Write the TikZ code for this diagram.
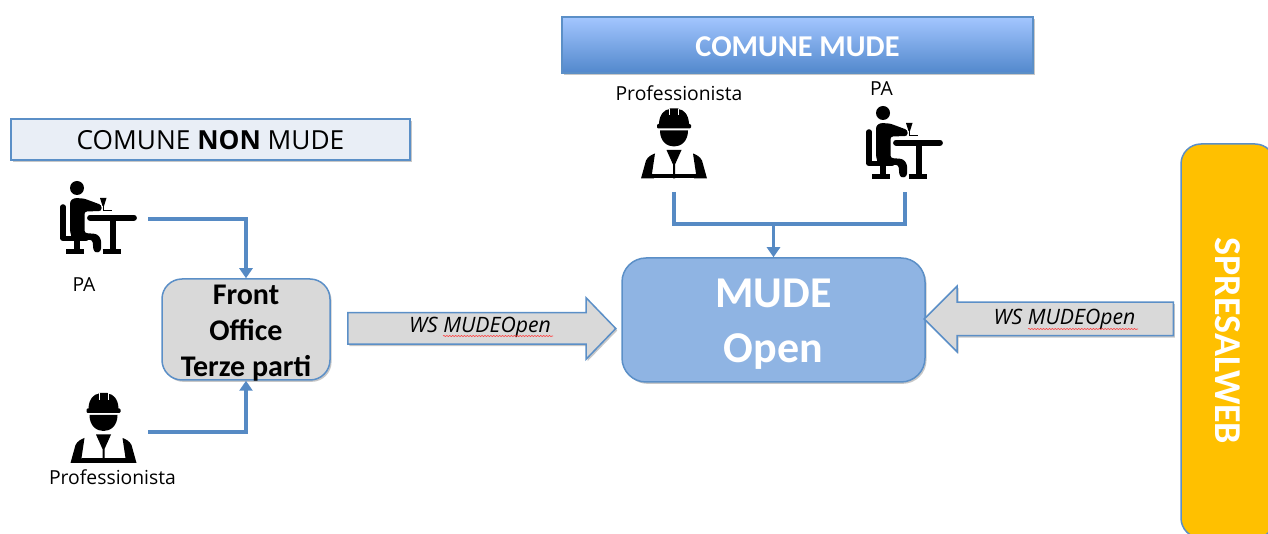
\documentclass[tikz,border=0pt]{standalone}
\usepackage{fontspec}
\setmainfont{Carlito}
\newfontfamily\labelfont{Open Sans}
\usetikzlibrary{shapes.arrows,shadows,arrows.meta,decorations.pathmorphing}
\def\px{0.75pt}
\definecolor{edgeblue}{HTML}{5B8FC7}
\definecolor{linkblue}{HTML}{568AC4}
\definecolor{greyfill}{HTML}{D9D9D9}
\definecolor{mudefill}{HTML}{8FB4E3}
\definecolor{paleblue}{HTML}{E9EEF6}
\definecolor{amber}{HTML}{FFC000}
\definecolor{barTop}{HTML}{A3C6FF}
\definecolor{barBottom}{HTML}{5288CC}
\tikzset{
  softshadow/.style={drop shadow={shadow xshift=1.2pt,shadow yshift=-1.4pt,opacity=0.22,fill=black}},
  boxbase/.style={draw=edgeblue,line width=1.5*\px,inner sep=0pt,align=center},
  wsarrow/.style={single arrow,draw=edgeblue,fill=greyfill,line width=1.5*\px,inner sep=0pt,anchor=tail,softshadow},
  wslabel/.style={font=\labelfont\itshape\fontsize{15.9pt}{18pt}\selectfont,inner sep=0pt},
  plainlabel/.style={font=\labelfont\fontsize{14.5pt}{17pt}\selectfont,inner sep=0pt},
  link/.style={draw=linkblue,line width=3.6*\px},
  linkarrow/.style={link,-{Triangle[length=10*\px,width=13*\px]}},
  squiggle/.style={draw=red!75,line width=0.45pt,decorate,decoration={snake,amplitude=0.45pt,segment length=2.2pt}},
  iconline/.style={draw=black,line cap=round,line join=round},
  pics/worker/.style={code={
    \fill[black,rounded corners=1.2*\px] (-17,15.5) rectangle (17,20);
    \fill[black] (-15,16) .. controls (-15,5) and (-8,0.5) .. (-5.5,1) -- (-4,0) -- (4,0) -- (5.5,1) .. controls (8,0.5) and (15,5) .. (15,16) -- cycle;
    \draw[white,line width=0.6*\px] (-4.4,0.5) -- (-4.4,7) (4.4,0.5) -- (4.4,7);
    \fill[black] (-14,22) -- (14,22) .. controls (14,33) and (7,38) .. (0,38) .. controls (-7,38) and (-14,33) .. (-14,22) -- cycle;
    \fill[black] (-7.5,41.5) -- (7.5,41.5) -- (1,56) -- (1,70) -- (-1,70) -- (-1,56) -- cycle;
    \fill[black] (-33,70) -- (-28,52) .. controls (-26,48) and (-22,46) .. (-19,45) -- (-22,65) -- (-20,70) -- cycle;
    \fill[black] (33,70) -- (28,52) .. controls (26,48) and (22,46) .. (19,45) -- (22,65) -- (20,70) -- cycle;
    \fill[black] (-22,65.5) rectangle (22,70);
  }},
  pics/deskman/.style={code={
    \fill[black] (0,7) circle (7);
    \fill[black,rounded corners=2.5*\px] (-7,20) -- (-3,17) -- (7,17.5) -- (24.5,24) -- (24.5,30) -- (7.5,30.5) -- (7.5,52) -- (20,53) -- (24,58) -- (24,70) -- (20,72) -- (16.5,70) -- (15.5,59) -- (-5,58) -- (-7,50) -- cycle;
    \draw[iconline,line width=5.5*\px] (-14,26) -- (-14,57.5) -- (9,57.5);
    \draw[iconline,line width=6*\px,line cap=butt] (0,58) -- (0,69);
    \draw[iconline,line width=4.6*\px,line cap=butt] (-11,70.3) -- (7,70.3);
    \draw[iconline,line width=5.8*\px] (13,36.7) -- (57,36.7);
    \draw[iconline,line width=6*\px,line cap=butt] (36,37) -- (36,69);
    \draw[iconline,line width=4.6*\px,line cap=butt] (25.7,70.3) -- (44,70.3);
    \fill[black] (23,17) -- (29.5,17) -- (27,25) -- (25.5,25) -- cycle;
    \draw[black,line width=1.3*\px] (26.2,25) -- (26.2,29) (26,29.6) -- (35,29.6);
  }}
}
\begin{document}
\begin{tikzpicture}[x=0.75pt,y=-0.75pt]
\useasboundingbox (0,0) rectangle (1268,534);
\begin{scope}
\clip (0,0) rectangle (1268,534);

\node[boxbase,softshadow,top color=barTop,bottom color=barBottom,
      minimum width=471*\px,minimum height=56*\px,text=white,
      font=\bfseries\fontsize{22.7pt}{25pt}\selectfont] (comune) at (797.5,45) {\raisebox{-1.2pt}[\height][\depth]{COMUNE MUDE}};
\node[boxbase,softshadow,fill=paleblue,minimum width=399*\px,minimum height=41*\px,
      font=\labelfont\fontsize{19.7pt}{23pt}\selectfont] (nonmude) at (210.5,139.5) {\raisebox{-0.7pt}[\height][\depth]{COMUNE \textbf{NON} MUDE}};
\node[boxbase,softshadow,fill=greyfill,rounded corners=15pt,minimum width=168*\px,minimum height=101*\px,
      font=\bfseries\fontsize{22.5pt}{27pt}\selectfont] (front) at (246,329.5) {\raisebox{-8.1pt}[0pt][0pt]{\begin{tabular}{@{}c@{}}Front\\Office\\Terze parti\end{tabular}}};
\node[boxbase,softshadow,fill=mudefill,rounded corners=18pt,minimum width=303*\px,minimum height=124*\px,
      text=white,font=\bfseries\fontsize{33pt}{41pt}\selectfont] (mude) at (773.5,320) {\raisebox{-9.2pt}[0pt][0pt]{\begin{tabular}{@{}c@{}}MUDE\\Open\end{tabular}}};
\node[boxbase,softshadow,fill=amber,rounded corners=15pt,rotate=-90,minimum width=394*\px,minimum height=94*\px,
      text=white,font=\bfseries\fontsize{28.5pt}{31pt}\selectfont] (spresal) at (1228,341) {SPRESALWEB};

\node[wsarrow,minimum height=268*\px,minimum width=60*\px,single arrow head extend=15*\px,single arrow tip angle=92] (wsleft) at (347,328.5) {\rule{0pt}{22.5pt}};
\node[wsarrow,shape border rotate=180,minimum height=249*\px,minimum width=64*\px,single arrow head extend=16*\px,single arrow tip angle=90] (wsright) at (1174,319) {\rule{0pt}{24pt}};
\node[wslabel] (wsltext) at (480,327) {WS MUDEOpen};
\node[wslabel] (wsrtext) at (1064.5,319) {WS MUDEOpen};
\draw[squiggle] (443,336) -- (553,336);
\draw[squiggle] (1028,329) -- (1138,329);

\pic at (103.5,393) {worker};
\pic at (674,108.5) {worker};
\pic at (77,181) {deskman};
\pic at (883,106) {deskman};

\node[plainlabel] (paleft) at (84,285) {PA};
\node[plainlabel] (proleft) at (112.5,477) {Professionista};
\node[plainlabel] (protop) at (679,93) {Professionista};
\node[plainlabel] (patop) at (881.5,89) {PA};

\coordinate (paout) at (148,219);
\coordinate (proout) at (148,432);
\coordinate (protopout) at (674,192);
\coordinate (patopout) at (905,192);
\coordinate (merge) at (773.5,224);
\draw[linkarrow] (paout) -| (front.north);
\draw[linkarrow] (proout) -| (front.south);
\draw[link] (protopout) |- (merge) -| (patopout);
\draw[linkarrow] (merge) -- (mude.north);
\end{scope}
\end{tikzpicture}
\end{document}
